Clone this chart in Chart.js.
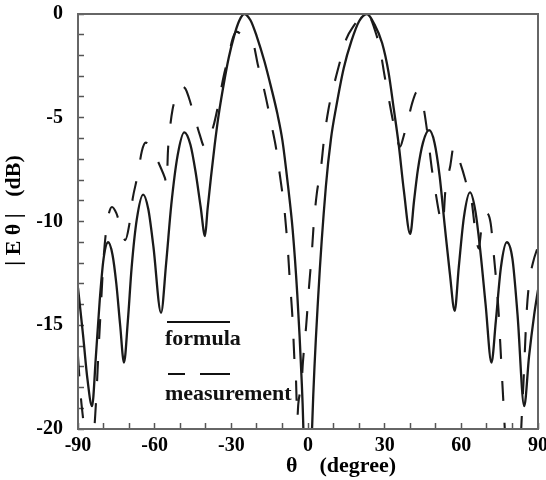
<!DOCTYPE html>
<html>
<head>
<meta charset="utf-8">
<script src="https://cdn.jsdelivr.net/npm/chart.js@4.4.1/dist/chart.umd.min.js"></script>
<style>
    html, body { margin: 0; padding: 0; background: #fff; overflow: hidden; }
    #wrap { position: relative; width: 546px; height: 480px; overflow: hidden; }
    #c { position: absolute; left: 0; top: 0; }
    .lg { position: absolute; font: bold 22px "Liberation Serif", "Times New Roman", serif; line-height: 22px; color: #111; white-space: nowrap; }
    .bar { position: absolute; height: 2px; background: #111; }
</style>
</head>
<body>
<div id="wrap">
    <canvas id="c" width="560" height="480"></canvas>
    <div class="bar" style="left:167px; top:321px; width:63px;"></div>
    <div class="lg" style="left:165px; top:327px;">formula</div>
    <div class="bar" style="left:168px; top:373px; width:17px;"></div>
    <div class="bar" style="left:200px; top:373px; width:30px;"></div>
    <div class="lg" style="left:165px; top:382px;">measurement</div>
</div>
<script>
// formula curve (theta in degrees, |E theta| in dB)
const formulaTheta = [-90, -88, -86.3, -84.5, -83, -81.5, -80, -78.2, -76.5, -75, -73.5, -72, -70.5, -69, -67, -64.5,
    -62.5, -60.5, -57.5, -55.5, -53.5, -51, -48.4, -46, -44, -42, -40.3, -39.3, -38, -36.5, -35, -33, -31,
    -29, -27, -25, -22.5, -20, -17, -14.5, -12, -10, -7.8, -6, -4.2, -2.5, -1.9, -1, 0,
    1, 1.7, 4, 7, 9, 11, 14, 17, 20, 23, 26, 29, 31.5, 33.6, 35.5, 37.5, 40, 41.5, 43, 45, 47.4, 49.5,
    51.5, 53.5, 55.5, 57.4, 59, 61, 63.4, 65.5, 67.5, 69.5, 71.8, 73.5, 75.5, 77.8, 80, 82, 84.6, 86.5, 88.5, 90];
const formulaDb = [-13.2, -15.5, -17.6, -18.9, -16.5, -13.8, -11.8, -11.0, -11.6, -13.0, -15.0, -16.8, -14.8, -12.2, -9.9, -8.7,
    -9.4, -11.2, -14.4, -12.0, -9.2, -6.8, -5.7, -6.3, -7.6, -9.3, -10.7, -9.4, -7.9, -6.3, -4.9, -3.4, -2.1,
    -1.1, -0.35, 0, -0.3, -1.1, -2.3, -3.5, -4.8, -6.1, -8.3, -10.4, -13.5, -17.6, -19.6, -25, -40,
    -23, -19.6, -13.6, -8.3, -6.0, -4.5, -2.6, -1.3, -0.35, 0, -0.5, -1.4, -2.8, -4.6, -6.3, -8.5, -10.6, -9.0, -7.5, -6.2, -5.6, -6.2,
    -7.8, -10.2, -12.5, -14.3, -12.2, -9.8, -8.6, -9.5, -11.5, -14.0, -16.8, -14.8, -12.2, -11.0, -11.8, -14.5, -18.9, -16.5, -14.5, -13.3];

// measurement curve
const measTheta = [-90, -89, -88, -86.5, -84.5, -83, -82, -81, -80, -78.5, -76.7, -75, -73, -71.5, -70, -68.6, -66.7,
    -65, -63.5, -61.5, -59.5, -58, -56, -55.3, -54.8, -54, -53, -51, -49.5, -48, -46.7, -44.3, -42.4, -40.5,
    -38.8, -37, -35.5, -33, -31, -29.5, -28, -25, -21.5, -19.6, -17.6, -15.7, -14.1, -12.5, -11.4, -10.2,
    -9.2, -8.4, -7.8, -7.25, -6.7, -6.1, -5.7, -5.3, -4.7, -4.2, -3.8, -2.4, -2, -0.7, 0.5, 1.5, 2.2, 3.5,
    5, 6.3, 8, 9.8, 12.5, 15, 18, 21, 23, 27, 28.5, 30, 31.5, 33, 34.8, 36, 37.4, 39.3, 41, 42.6, 44, 45.2,
    47, 48.5, 49.8, 51.5, 52.8, 53.7, 55.7, 57, 58.5, 60.4, 62.5, 64, 65.5, 66.8, 67.8, 68.6, 69.8, 71.5,
    72.7, 73.6, 74.5, 75.2, 75.8, 76.5, 77.5, 80, 83, 83.8, 84.3, 84.8, 85.5, 86.5, 88, 90];
const measDb = [-16.5, -18.3, -19.5, -21, -21, -18.8, -16.3, -14, -11.8, -10.0, -9.3, -9.6, -10.4, -10.9, -10.2, -8.9, -7.8,
    -6.6, -6.2, -6.4, -6.9, -7.3, -7.9, -8.2, -6.6, -5.5, -4.6, -3.8, -3.5, -3.6, -4.0, -5.0, -5.8, -6.4,
    -6.0, -5.4, -4.6, -3.0, -2.0, -1.2, -0.85, -1.1, -1.4, -2.46, -3.42, -4.48, -5.45, -6.46, -7.42, -8.48,
    -9.45, -10.55, -11.5, -12.6, -13.5, -14.6, -15.6, -16.7, -17.6, -19.5, -18.8, -17.6, -16.8, -15.0, -13.0, -11.5, -10.2, -8.6,
    -7.5, -6.0, -4.6, -3.6, -2.3, -1.2, -0.55, -0.1, 0, -1.1, -1.9, -3.0, -4.0, -5.0, -6.0, -6.4, -5.9, -5.0, -4.2, -3.75, -4.0, -4.5,
    -6.0, -7.5, -8.5, -9.7, -10.1, -8.6, -7.3, -6.4, -6.8, -7.5, -8.4, -9.0, -10.5, -11.3, -10.4, -9.9, -9.6, -10.1,
    -11.6, -12.8, -14.2, -15.8, -17.2, -18.8, -21, -23, -21, -19, -17.8, -16.4, -14.5, -13.0, -12.0, -11.2];

const xTitle = '            \u03b8    (degree)';
const yTitle = '    | E \u03b8 |   (dB)';

const serif = '"Liberation Serif", "Times New Roman", serif';
const zip = (xs, ys) => xs.map((x, i) => ({ x: x, y: ys[i] }));

// box round the plot area
const frame = {
    id: 'frame',
    afterDraw(chart) {
        const a = chart.chartArea;
        const c = chart.ctx;
        c.save();
        c.strokeStyle = '#666';
        c.lineWidth = 2;
        c.strokeRect(a.left, a.top, a.right - a.left, a.bottom - a.top);
        c.restore();
    }
};

new Chart(document.getElementById('c'), {
    type: 'line',
    data: {
        datasets: [{
            label: 'formula',
            data: zip(formulaTheta, formulaDb),
            borderColor: '#1a1a1a',
            borderWidth: 2.3,
            pointRadius: 0,
            cubicInterpolationMode: 'monotone'
        }, {
            label: 'measurement',
            data: zip(measTheta, measDb),
            borderColor: '#1a1a1a',
            borderWidth: 2.1,
            borderDash: [20, 22],
            pointRadius: 0,
            cubicInterpolationMode: 'monotone'
        }]
    },
    options: {
        responsive: false,
        animation: false,
        layout: { padding: { left: 0, right: 22, top: 14, bottom: 0 } },
        plugins: { legend: { display: false }, tooltip: { enabled: false } },
        scales: {
            x: {
                type: 'linear', min: -90, max: 90,
                border: { display: false },
                grid: { drawOnChartArea: false, tickLength: -6, tickColor: '#555', tickWidth: 1.5 },
                ticks: {
                    stepSize: 10, autoSkip: false, maxRotation: 0, padding: 11,
                    color: '#000', font: { family: serif, size: 20, weight: 'bold' },
                    callback: v => (v % 30 === 0 ? String(v) : '')
                },
                title: { display: true, text: xTitle, color: '#000', padding: 0,
                    font: { family: serif, size: 22, weight: 'bold' } },
                afterFit: s => { s.height = 51; }
            },
            y: {
                min: -20, max: 0,
                border: { display: false },
                grid: { drawOnChartArea: false, tickLength: -6, tickColor: '#555', tickWidth: 1.5 },
                ticks: {
                    stepSize: 1, autoSkip: false, padding: 21,
                    color: '#000', font: { family: serif, size: 20, weight: 'bold' },
                    callback: v => (v % 5 === 0 ? String(v) : '')
                },
                title: { display: true, text: yTitle, color: '#000', padding: { top: 1, bottom: 0 },
                    font: { family: serif, size: 22, weight: 'bold' } },
                afterFit: s => { s.width = 78; s.paddingTop = 12; s.paddingBottom = 12; }
            }
        }
    },
    plugins: [frame]
});
</script>
</body>
</html>
